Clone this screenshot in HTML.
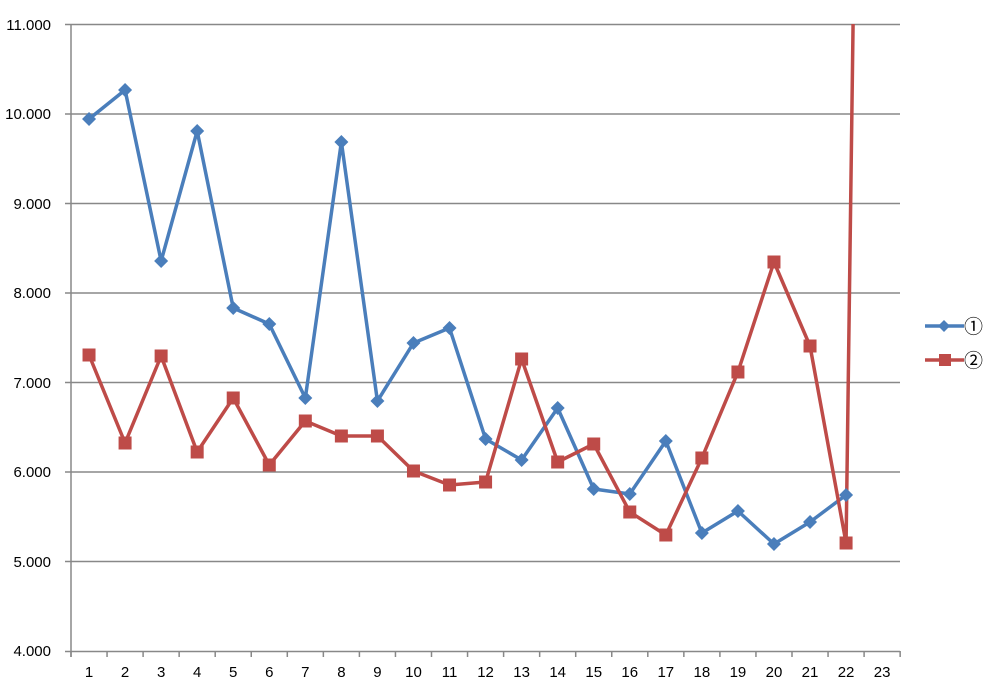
<!DOCTYPE html>
<html><head><meta charset="utf-8"><style>
html,body{margin:0;padding:0;background:#fff;width:990px;height:681px;overflow:hidden}
text{font-family:"Liberation Sans","Noto Sans CJK JP",sans-serif;font-size:15px;fill:#000}
text.cj{font-family:"Noto Sans CJK JP",sans-serif;font-size:19px}
</style></head><body>
<svg width="990" height="681" xmlns="http://www.w3.org/2000/svg">
<defs><clipPath id="c"><rect x="71" y="24" width="830" height="628"/></clipPath></defs>
<g stroke="#888" stroke-width="1.5">
<line x1="65" y1="24.5" x2="900" y2="24.5"/>
<line x1="65" y1="114" x2="900" y2="114"/>
<line x1="65" y1="203.5" x2="900" y2="203.5"/>
<line x1="65" y1="293" x2="900" y2="293"/>
<line x1="65" y1="382.5" x2="900" y2="382.5"/>
<line x1="65" y1="472" x2="900" y2="472"/>
<line x1="65" y1="561.5" x2="900" y2="561.5"/>
<line x1="65" y1="651.5" x2="900" y2="651.5"/>
<line x1="71" y1="24" x2="71" y2="657"/>
</g>
<g stroke="#888" stroke-width="1.5" id="ticks"></g>
<g text-anchor="end">
<text x="51" y="30">11.000</text><text x="51" y="119">10.000</text><text x="51" y="209">9.000</text><text x="51" y="298">8.000</text><text x="51" y="388">7.000</text><text x="51" y="477">6.000</text><text x="51" y="567">5.000</text><text x="51" y="656">4.000</text>
</g>
<g id="xl" text-anchor="middle"></g>
<g clip-path="url(#c)">
<polyline id="blue" fill="none" stroke="#4a7ebb" stroke-width="3.5" stroke-linejoin="round"/>
<polyline id="red" fill="none" stroke="#be4b48" stroke-width="3.5" stroke-linejoin="round"/>
</g>
<g id="bm" fill="#4a7ebb"></g>
<g id="rm" fill="#be4b48"></g>
<line x1="925" y1="326" x2="964" y2="326" stroke="#4a7ebb" stroke-width="3.5"/>
<polygon points="944,320 950,326 944,332 938,326" fill="#4a7ebb"/>
<text class="cj" x="964" y="333">①</text>
<line x1="925" y1="360" x2="964" y2="360" stroke="#be4b48" stroke-width="3.5"/>
<rect x="939" y="354" width="12" height="12" fill="#be4b48"/>
<text class="cj" x="964" y="367">②</text>
</svg>
<script>
const ns="http://www.w3.org/2000/svg";
const X=i=>71+(i-0.5)*36.05;
const B=[119,90,261,131,308,324,398,142,401,343,328,439,460,408,489,494,441,533,511,544,522,495];
const R=[355,443,356,452,398,465,421,436,436,471,485,482,359,462,444,512,535,458,372,262,346,543];
let t=document.getElementById('ticks'),xl=document.getElementById('xl');
for(let k=0;k<=23;k++){let l=document.createElementNS(ns,'line');let x=71+k*36.05;l.setAttribute('x1',x);l.setAttribute('x2',x);l.setAttribute('y1',651);l.setAttribute('y2',657);t.appendChild(l);}
for(let i=1;i<=23;i++){let s=document.createElementNS(ns,'text');s.setAttribute('x',X(i));s.setAttribute('y',677);s.textContent=i;xl.appendChild(s);}
document.getElementById('blue').setAttribute('points',B.map((y,i)=>X(i+1)+','+y).join(' '));
document.getElementById('red').setAttribute('points',R.map((y,i)=>X(i+1)+','+y).join(' ')+' '+X(23)+',-2130');
let bm=document.getElementById('bm'),rm=document.getElementById('rm');
B.forEach((y,i)=>{let p=document.createElementNS(ns,'polygon');let x=X(i+1);p.setAttribute('points',`${x},${y-7} ${x+7},${y} ${x},${y+7} ${x-7},${y}`);bm.appendChild(p);});
R.forEach((y,i)=>{let r=document.createElementNS(ns,'rect');let x=X(i+1);r.setAttribute('x',x-6.5);r.setAttribute('y',y-6.5);r.setAttribute('width',13);r.setAttribute('height',13);rm.appendChild(r);});
</script>
</body></html>
